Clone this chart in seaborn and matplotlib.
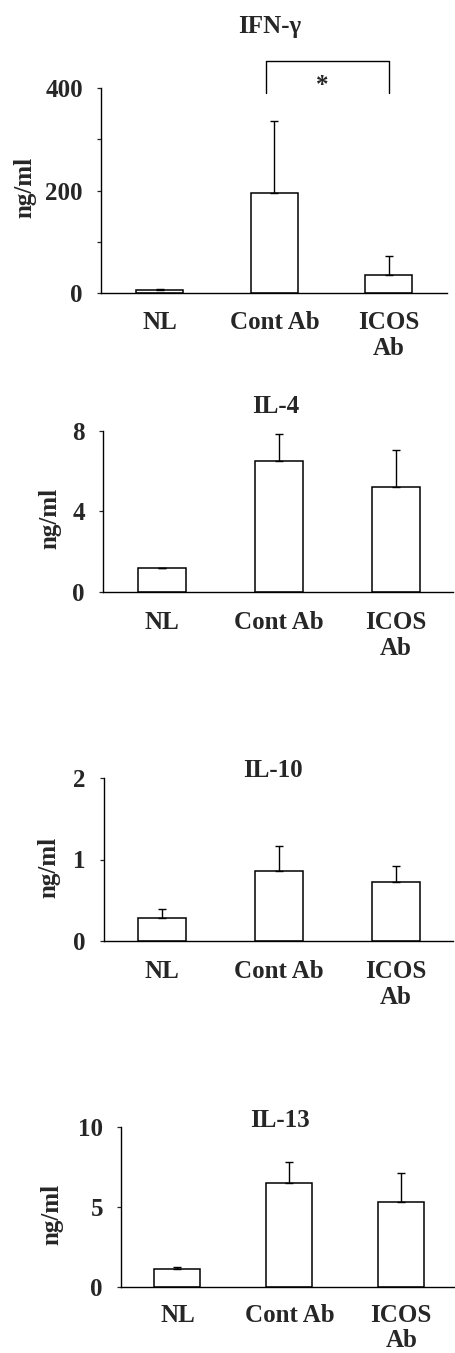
import numpy as np
import matplotlib
matplotlib.use("Agg")
import matplotlib.pyplot as plt
import seaborn as sns

sns.set_style("ticks")
plt.rcParams["font.family"] = ["Liberation Serif", "DejaVu Serif"]
plt.rcParams["font.weight"] = "bold"

# DATA
groups = ["NL", "Cont Ab", "ICOS\nAb"]
titles = ["IFN-γ", "IL-4", "IL-10", "IL-13"]

ifn_mean = [5, 195, 35]
ifn_err = [2, 141, 37]
il4_mean = [1.2, 6.5, 5.2]
il4_err = [0.0, 1.35, 1.85]
il10_mean = [0.28, 0.86, 0.73]
il10_err = [0.11, 0.30, 0.19]
il13_mean = [1.15, 6.5, 5.3]
il13_err = [0.12, 1.3, 1.85]

ifn_ticks = [0, 100, 200, 300, 400]
ifn_ticklabels = ["0", "", "200", "", "400"]
il4_ticks = [0, 4, 8]
il10_ticks = [0, 1, 2]
il13_ticks = [0, 5, 10]

means = [ifn_mean, il4_mean, il10_mean, il13_mean]
errs = [ifn_err, il4_err, il10_err, il13_err]
yticks = [ifn_ticks, il4_ticks, il10_ticks, il13_ticks]
yticklabels = [ifn_ticklabels, [str(t) for t in il4_ticks],
               [str(t) for t in il10_ticks], [str(t) for t in il13_ticks]]

# LAYOUT (pixels in a 455 x 1353 figure)
W, H = 455, 1353
# left, right, top, bottom of each axes box
boxes = [(101, 447, 88, 293), (103, 453, 431, 592),
         (104, 453, 778, 941), (121, 455, 1127, 1287)]
xlims = [(-0.515, 2.507), (-0.505, 2.49), (-0.497, 2.49), (-0.504, 2.48)]
title_pos = [(270, 33), (276, 413), (273, 777), (280, 1127)]
ylabel_pos = [(25, 187), (50, 518), (49, 867), (52, 1214)]
xpads = [13, 14, 14, 12]

FS = 18

fig = plt.figure(figsize=(W / 100, H / 100), dpi=100)

for i in range(4):
    l, r, t, b = boxes[i]
    ax = fig.add_axes([l / W, 1 - b / H, (r - l) / W, (b - t) / H])

    sns.barplot(x=groups, y=means[i], color="white", saturation=1,
                edgecolor="black", linewidth=1.1, width=0.41,
                errorbar=None, ax=ax)
    ax.errorbar(range(3), means[i], yerr=[np.zeros(3), errs[i]],
                fmt="none", ecolor="black", elinewidth=1.0,
                capsize=3, capthick=1.0)

    ax.set_xlim(*xlims[i])
    ax.set_ylim(yticks[i][0], yticks[i][-1])
    ax.set_yticks(yticks[i])
    ax.set_yticklabels(yticklabels[i], fontsize=FS, fontweight="bold")
    ax.set_xticks(range(3))
    ax.set_xticklabels(groups, fontsize=FS, fontweight="bold", linespacing=1.15)
    ax.tick_params(axis="x", length=0, pad=xpads[i])
    ax.tick_params(axis="y", length=3, width=0.9, pad=10, direction="out")
    ax.set_xlabel("")
    ax.set_ylabel("")
    sns.despine(ax=ax)
    for s in ["left", "bottom"]:
        ax.spines[s].set_linewidth(1.0)
        ax.spines[s].set_color("black")

    tx, ty = title_pos[i]
    fig.text(tx / W, 1 - ty / H, titles[i], ha="center", va="baseline",
             fontsize=FS, fontweight="bold")
    lx, ly = ylabel_pos[i]
    fig.text(lx / W, 1 - ly / H, "ng/ml", ha="center", va="center",
             rotation=90, fontsize=FS, fontweight="bold")

    if i == 0:
        # significance bracket between Cont Ab and ICOS Ab
        ax.plot([0.93, 0.93, 2.0, 2.0], [390, 453, 453, 390],
                color="black", lw=1.0, clip_on=False)
        ax.text(1.42, 405, "*", ha="center", va="center",
                fontsize=FS, fontweight="bold", clip_on=False)

fig.savefig("out.png", dpi=100)
